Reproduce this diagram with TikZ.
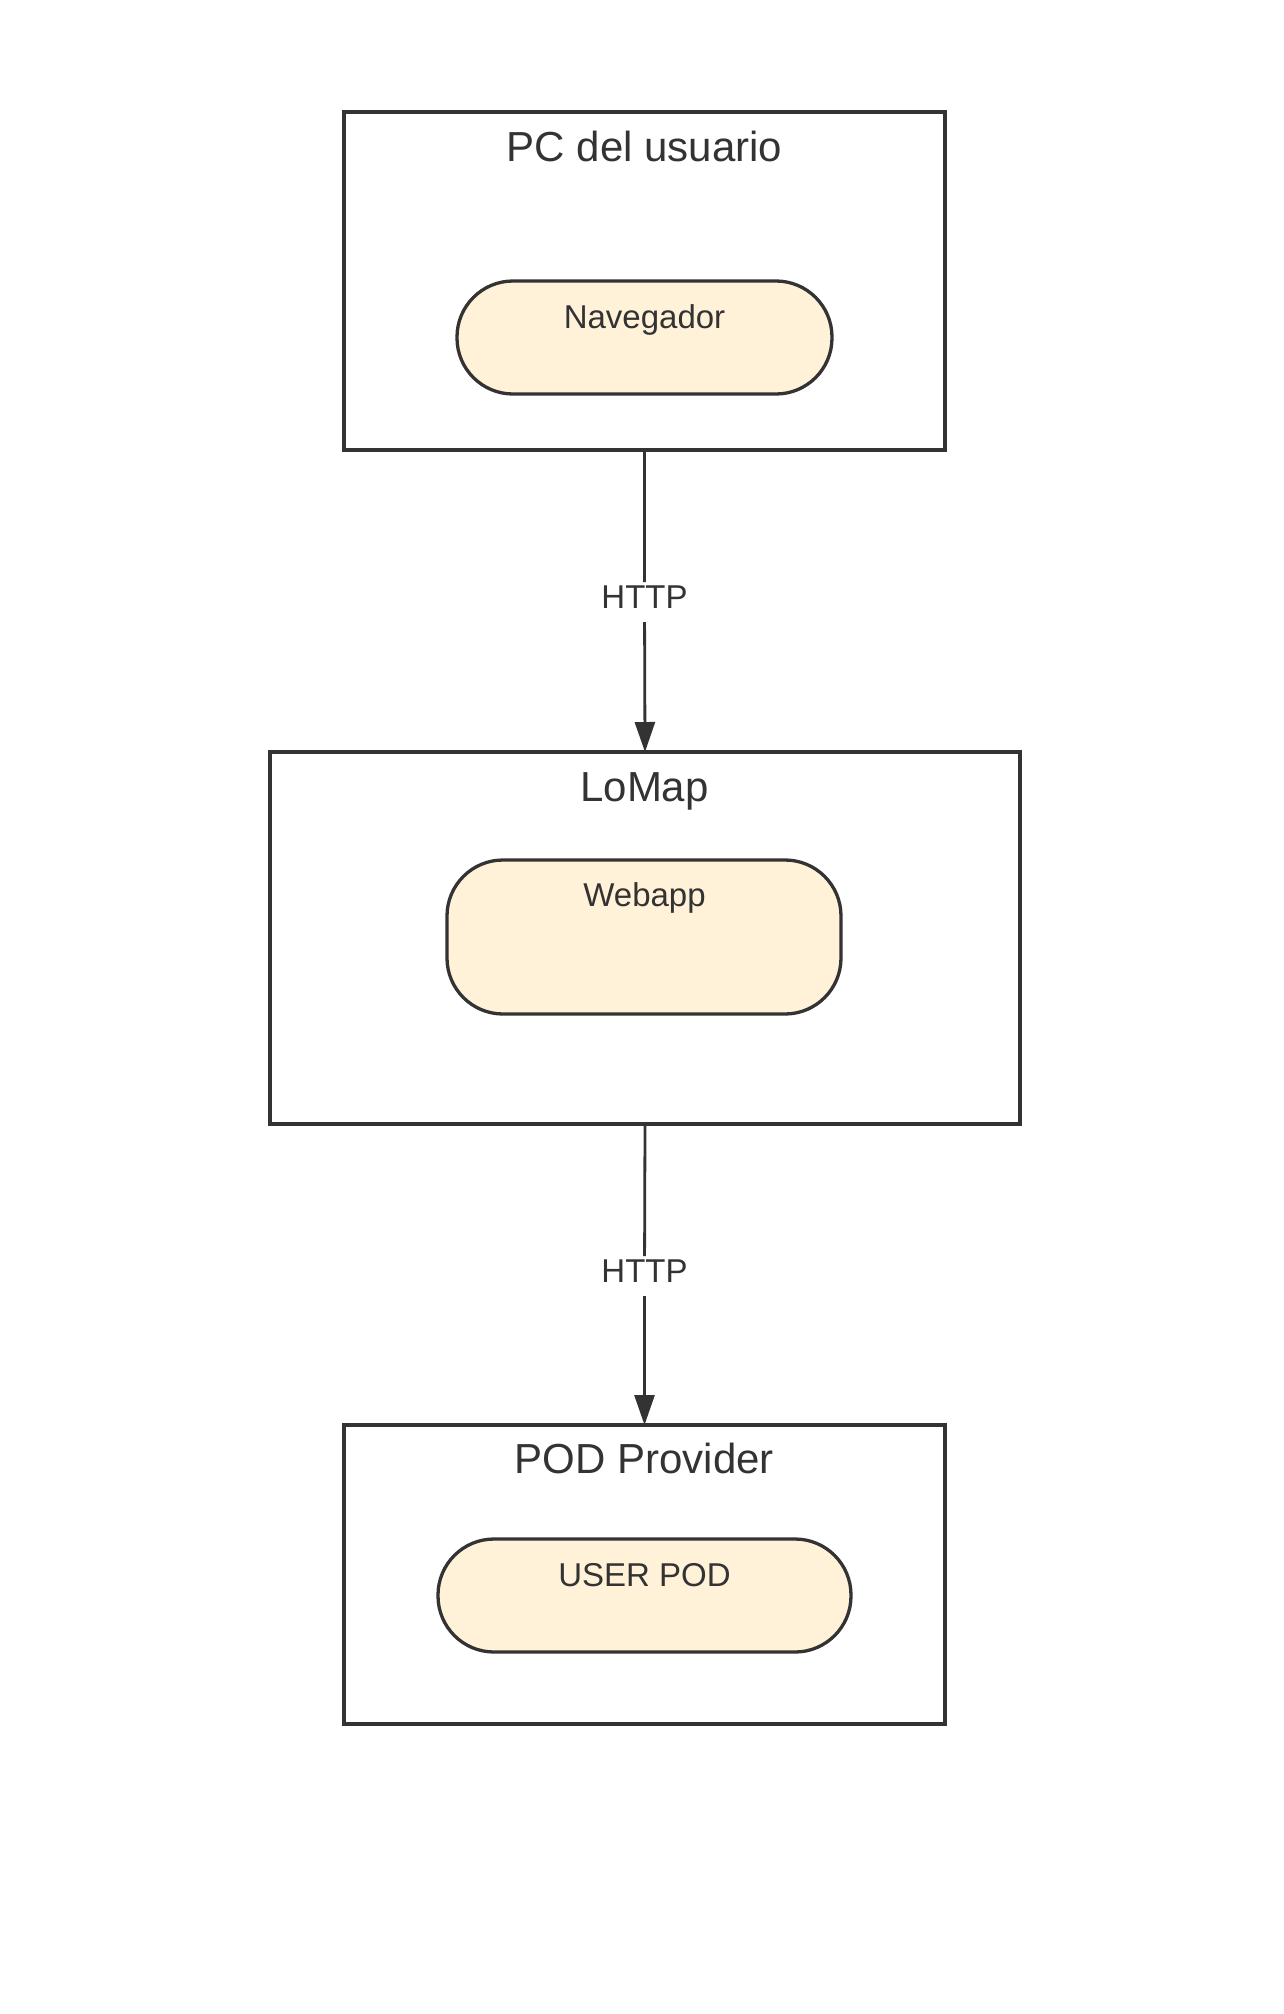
\documentclass[tikz,border=0pt]{standalone}
\usepackage{fontspec}
\setmainfont{Liberation Sans}
\usetikzlibrary{arrows.meta}
\definecolor{ink}{HTML}{333333}
\definecolor{cream}{HTML}{FFF2D9}
\tikzset{
  box/.style={draw=ink, line width=3.3pt, fill=white, inner sep=0pt, outer sep=0pt},
  pill/.style={draw=ink, line width=3.3pt, fill=cream, rounded corners=56pt, inner sep=0pt, outer sep=0pt},
  title/.style={text=ink, font=\fontsize{42}{50}\selectfont, inner sep=0pt, anchor=base},
  ptext/.style={text=ink, font=\fontsize{33}{40}\selectfont, inner sep=0pt, anchor=base},
  lbl/.style={text=ink, font=\fontsize{33}{40}\selectfont, inner sep=3pt, text depth=11pt, anchor=base},
  conn/.style={draw=ink, line width=2.8pt, -{Triangle[length=30pt,width=20pt]}}
}
\begin{document}
\begin{tikzpicture}[x=1pt,y=-1pt]
\useasboundingbox (0,0) rectangle (1283,2014);
% boxes
\node[box, minimum width=601pt, minimum height=338pt] (b1) at (644.5,281) {};
\node[box, minimum width=750pt, minimum height=372pt] (b2) at (645,938) {};
\node[box, minimum width=601pt, minimum height=299pt] (b3) at (644.5,1574.5) {};
% titles
\node[title] (t1) at (644.5,161) {PC del usuario};
\node[title] (t2) at (644.5,801) {LoMap};
\node[title] (t3) at (644.5,1473) {POD Provider};
% pills
\node[pill, minimum width=375pt, minimum height=113pt] (p1) at (644.5,337.5) {};
\node[pill, minimum width=394pt, minimum height=154pt] (p2) at (644,937) {};
\node[pill, minimum width=413pt, minimum height=113pt] (p3) at (644.5,1595.5) {};
\node[ptext] (p1t) at (644.5,328) {Navegador};
\node[ptext] (p2t) at (644.5,906) {Webapp};
\node[ptext] (p3t) at (644.5,1586) {USER POD};
% connector labels
\node[lbl] (h1) at (644.5,608) {HTTP};
\node[lbl] (h2) at (644.5,1282) {HTTP};
% connectors
\draw[conn] (b1.south) -- (h1) -- (b2.north);
\draw[conn] (b2.south) -- (h2) -- (b3.north);
\end{tikzpicture}
\end{document}
